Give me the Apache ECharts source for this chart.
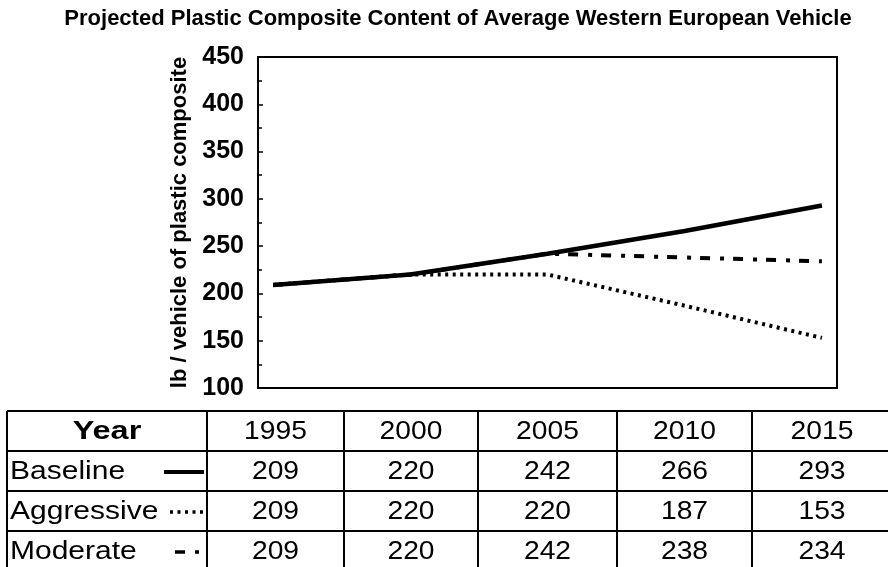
<!DOCTYPE html>
<html><head><meta charset="utf-8">
<script src="https://cdn.jsdelivr.net/npm/echarts@6/dist/echarts.min.js"></script>
<style>html,body{margin:0;padding:0;background:#fff}#c{width:888px;height:567px}</style>
</head><body><div id="c"></div>
<script>
const titleText = 'Projected Plastic Composite Content of Average Western European Vehicle';
const yAxisName = 'lb / vehicle of plastic composite';
const years = [1995, 2000, 2005, 2010, 2015];
const baseline = [209, 220, 242, 266, 293];
const aggressive = [209, 220, 220, 187, 153];
const moderate = [209, 220, 242, 238, 234];
const seriesNames = ['Baseline', 'Aggressive', 'Moderate'];
const yTicks = [100, 150, 200, 250, 300, 350, 400, 450];

const FONT = '"Liberation Sans", Arial, sans-serif';
const styles = {
  Baseline: { width: 4.5, type: 'solid' },
  Aggressive: { width: 4, type: [3, 4.5] },
  Moderate: { width: 4, type: [10, 10, 4, 9] }
};
const seriesData = { Baseline: baseline, Aggressive: aggressive, Moderate: moderate };

// table layout
const colX = [7, 207, 344, 478, 617, 752, 892];
const rowY = [411, 451, 491, 531, 571];
const SX = 1.13;
function txt(x, y, s, font, align, sx) {
  return { type: 'text', x: x, y: y, scaleX: sx, style: { text: s, font: font, fill: '#000', align: align, verticalAlign: 'middle' } };
}
const graphics = [];
graphics.push(txt(458, 19, titleText, 'bold 22px ' + FONT, 'center', 1));
rowY.forEach(y => graphics.push({ type: 'line', shape: { x1: colX[0], y1: y, x2: colX[colX.length - 1], y2: y }, style: { stroke: '#000', lineWidth: 2 } }));
colX.forEach(x => graphics.push({ type: 'line', shape: { x1: x, y1: rowY[0], x2: x, y2: rowY[rowY.length - 1] }, style: { stroke: '#000', lineWidth: 2 } }));
graphics.push(txt((colX[0] + colX[1]) / 2, (rowY[0] + rowY[1]) / 2 + 1, 'Year', 'bold 25px ' + FONT, 'center', 1.3));
years.forEach((yr, i) => {
  graphics.push(txt((colX[i + 1] + colX[i + 2]) / 2, (rowY[0] + rowY[1]) / 2 + 1, String(yr), '25px ' + FONT, 'center', SX));
});
seriesNames.forEach((nm, r) => {
  const cy = (rowY[r + 1] + rowY[r + 2]) / 2 + 1;
  graphics.push(txt(10, cy, nm, '25px ' + FONT, 'left', 1.2));
  const st = styles[nm];
  const x1 = nm === 'Baseline' ? 164 : (nm === 'Aggressive' ? 170 : 175);
  graphics.push({ type: 'line', shape: { x1: x1, y1: cy, x2: 204, y2: cy }, style: { stroke: '#000', lineWidth: st.width - 0.5, lineDash: st.type === 'solid' ? null : st.type } });
  seriesData[nm].forEach((v, i) => {
    graphics.push(txt((colX[i + 1] + colX[i + 2]) / 2, cy, String(v), '25px ' + FONT, 'center', SX));
  });
});

const chart = echarts.init(document.getElementById('c'), null, { renderer: 'canvas' });
chart.setOption({
  animation: false,
  backgroundColor: '#fff',
  textStyle: { fontFamily: FONT },
  grid: { left: 258, top: 57, right: 51, bottom: 179, show: true, borderColor: '#000', borderWidth: 2, containLabel: false },
  xAxis: {
    type: 'value', min: 1994.45, max: 2015.55,
    axisLine: { show: false }, axisTick: { show: false }, axisLabel: { show: false }, splitLine: { show: false }
  },
  yAxis: {
    type: 'value', min: yTicks[0], max: yTicks[yTicks.length - 1], interval: 50,
    name: yAxisName, nameLocation: 'middle', nameRotate: 90, nameGap: 65,
    nameTextStyle: { fontFamily: FONT, fontWeight: 'bold', fontSize: 22, color: '#000' },
    axisLine: { show: true, lineStyle: { color: '#000', width: 2 } },
    axisTick: { show: true, inside: true, length: 5, lineStyle: { color: '#000', width: 1.5 } },
    minorTick: { show: true, splitNumber: 2, length: 4, lineStyle: { color: '#000', width: 1.5 } },
    axisLabel: { fontFamily: FONT, fontWeight: 'bold', fontSize: 25, color: '#000', margin: 14 },
    splitLine: { show: false }
  },
  series: ['Aggressive', 'Moderate', 'Baseline'].map(nm => ({
    name: nm, type: 'line', symbol: 'none', silent: true,
    data: years.map((y, i) => [y, seriesData[nm][i]]),
    lineStyle: { color: '#000', width: styles[nm].width, type: styles[nm].type, cap: 'butt' },
    z: nm === 'Baseline' ? 3 : 2
  })),
  graphic: graphics
});
</script></body></html>
